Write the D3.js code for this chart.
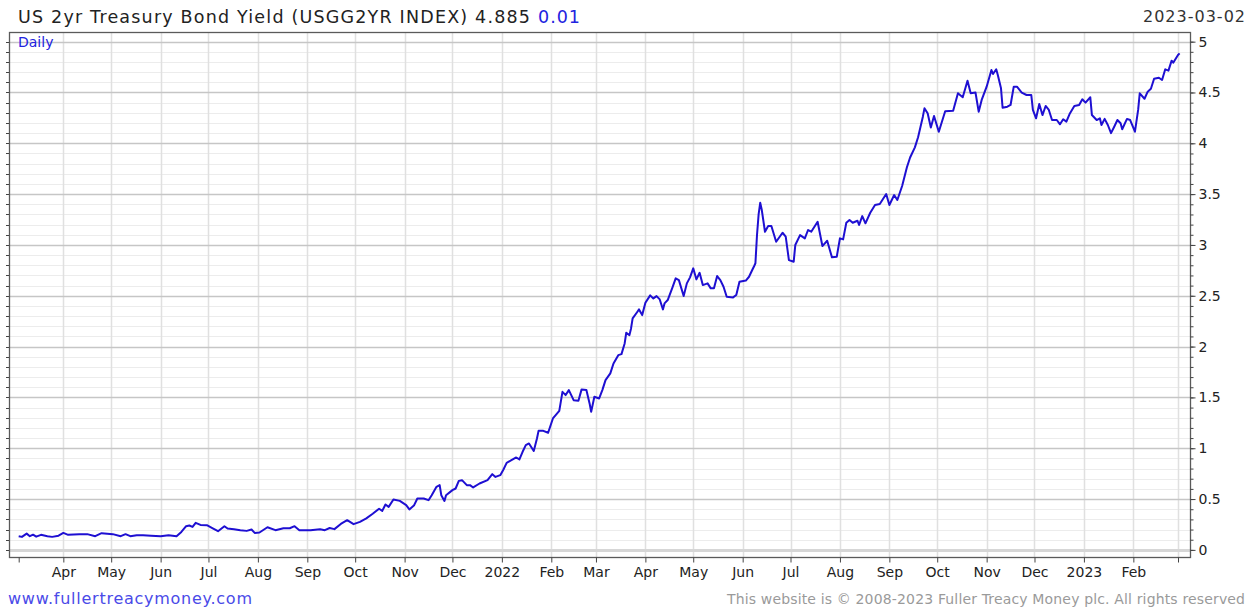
<!DOCTYPE html>
<html>
<head>
<meta charset="utf-8">
<script src="https://cdn.jsdelivr.net/npm/d3@7"></script>
<style>
  html, body { margin: 0; padding: 0; background: #fff; }
  svg { display: block; font-family: "DejaVu Sans", Verdana, sans-serif; }
</style>
</head>
<body>
<svg id="chart" width="1260" height="608"></svg>
<script>
// values (date, yield %)
var dates = [
  "2021-03-04","2021-03-06","2021-03-09","2021-03-11","2021-03-13","2021-03-15","2021-03-18","2021-03-22","2021-03-25","2021-03-29",
  "2021-04-01","2021-04-04","2021-04-11","2021-04-16","2021-04-21","2021-04-25","2021-05-02","2021-05-07","2021-05-10","2021-05-13",
  "2021-05-17","2021-05-21","2021-05-26","2021-06-01","2021-06-06","2021-06-11","2021-06-14","2021-06-17","2021-06-19","2021-06-21",
  "2021-06-23","2021-06-26","2021-06-30","2021-07-04","2021-07-07","2021-07-11","2021-07-13","2021-07-17","2021-07-21","2021-07-25",
  "2021-07-28","2021-07-30","2021-08-02","2021-08-07","2021-08-12","2021-08-17","2021-08-21","2021-08-24","2021-08-27","2021-09-03",
  "2021-09-09","2021-09-12","2021-09-15","2021-09-18","2021-09-22","2021-09-26","2021-09-30","2021-10-04","2021-10-08","2021-10-12",
  "2021-10-16","2021-10-18","2021-10-20","2021-10-22","2021-10-25","2021-10-29","2021-11-02","2021-11-04","2021-11-07","2021-11-09",
  "2021-11-13","2021-11-16","2021-11-18","2021-11-21","2021-11-23","2021-11-24","2021-11-26","2021-11-27","2021-12-01","2021-12-03",
  "2021-12-05","2021-12-07","2021-12-10","2021-12-12","2021-12-14","2021-12-18","2021-12-23","2021-12-26","2021-12-28","2021-12-31",
  "2022-01-02","2022-01-04","2022-01-07","2022-01-10","2022-01-12","2022-01-14","2022-01-16","2022-01-18","2022-01-20","2022-01-21",
  "2022-01-23","2022-01-24","2022-01-27","2022-01-30","2022-02-02","2022-02-06","2022-02-08","2022-02-10","2022-02-12","2022-02-15",
  "2022-02-18","2022-02-20","2022-02-23","2022-02-25","2022-02-26","2022-02-28","2022-03-03","2022-03-05","2022-03-07","2022-03-10",
  "2022-03-12","2022-03-15","2022-03-17","2022-03-19","2022-03-20","2022-03-22","2022-03-23","2022-03-24","2022-03-27","2022-03-28",
  "2022-03-30","2022-04-01","2022-04-04","2022-04-06","2022-04-08","2022-04-10","2022-04-12","2022-04-13","2022-04-15","2022-04-18",
  "2022-04-20","2022-04-22","2022-04-25","2022-04-27","2022-04-29","2022-05-01","2022-05-03","2022-05-05","2022-05-07","2022-05-10",
  "2022-05-12","2022-05-14","2022-05-16","2022-05-18","2022-05-20","2022-05-22","2022-05-26","2022-05-28","2022-05-30","2022-06-03",
  "2022-06-05","2022-06-07","2022-06-08","2022-06-09","2022-06-10","2022-06-11","2022-06-12","2022-06-13","2022-06-15","2022-06-17",
  "2022-06-19","2022-06-22","2022-06-26","2022-06-28","2022-06-30","2022-07-03","2022-07-04","2022-07-07","2022-07-10","2022-07-12",
  "2022-07-14","2022-07-18","2022-07-21","2022-07-24","2022-07-27","2022-07-30","2022-08-01","2022-08-03","2022-08-05","2022-08-07",
  "2022-08-09","2022-08-12","2022-08-13","2022-08-15","2022-08-17","2022-08-20","2022-08-23","2022-08-26","2022-08-30","2022-09-01",
  "2022-09-04","2022-09-06","2022-09-09","2022-09-12","2022-09-14","2022-09-17","2022-09-19","2022-09-22","2022-09-23","2022-09-25",
  "2022-09-27","2022-09-29","2022-10-02","2022-10-06","2022-10-11","2022-10-14","2022-10-17","2022-10-20","2022-10-22","2022-10-25",
  "2022-10-27","2022-10-29","2022-11-01","2022-11-04","2022-11-05","2022-11-07","2022-11-08","2022-11-10","2022-11-11","2022-11-14",
  "2022-11-16","2022-11-18","2022-11-20","2022-11-23","2022-11-26","2022-11-29","2022-11-30","2022-12-02","2022-12-04","2022-12-06",
  "2022-12-08","2022-12-10","2022-12-12","2022-12-15","2022-12-17","2022-12-19","2022-12-21","2022-12-23","2022-12-26","2022-12-29",
  "2022-12-31","2023-01-02","2023-01-05","2023-01-06","2023-01-09","2023-01-11","2023-01-12","2023-01-14","2023-01-16","2023-01-18",
  "2023-01-20","2023-01-22","2023-01-24","2023-01-25","2023-01-28","2023-01-30","2023-02-02","2023-02-04","2023-02-05","2023-02-08",
  "2023-02-10","2023-02-12","2023-02-14","2023-02-17","2023-02-19","2023-02-21","2023-02-23","2023-02-25","2023-02-26","2023-03-01",
  "2023-03-02"
];
var yields = [
  0.135,0.128,0.160,0.135,0.150,0.130,0.148,0.135,0.128,0.140,
  0.167,0.148,0.155,0.155,0.135,0.164,0.155,0.135,0.155,0.135,
  0.145,0.145,0.140,0.135,0.145,0.135,0.177,0.233,0.240,0.226,
  0.266,0.246,0.243,0.210,0.184,0.233,0.210,0.204,0.194,0.187,
  0.200,0.167,0.171,0.223,0.194,0.213,0.213,0.233,0.194,0.194,
  0.204,0.194,0.215,0.204,0.255,0.292,0.253,0.276,0.310,0.355,
  0.405,0.384,0.447,0.423,0.496,0.482,0.440,0.398,0.440,0.506,
  0.506,0.489,0.538,0.620,0.637,0.538,0.482,0.538,0.588,0.604,
  0.679,0.686,0.637,0.637,0.614,0.653,0.686,0.745,0.718,0.735,
  0.791,0.856,0.883,0.909,0.890,0.965,1.030,1.047,0.998,0.974,
  1.096,1.171,1.171,1.152,1.293,1.368,1.555,1.523,1.572,1.473,
  1.467,1.579,1.572,1.441,1.358,1.506,1.490,1.572,1.670,1.736,
  1.834,1.916,1.926,2.031,2.136,2.113,2.179,2.277,2.343,2.366,
  2.310,2.431,2.504,2.474,2.497,2.464,2.366,2.425,2.458,2.583,
  2.671,2.654,2.497,2.622,2.681,2.770,2.661,2.726,2.605,2.622,
  2.573,2.573,2.694,2.654,2.589,2.490,2.484,2.507,2.638,2.650,
  2.687,2.753,2.785,2.820,3.100,3.300,3.415,3.343,3.130,3.186,
  3.186,3.031,3.120,3.081,2.851,2.835,2.999,3.097,3.065,3.147,
  3.130,3.228,2.989,3.041,2.878,2.884,3.065,3.055,3.218,3.245,
  3.218,3.238,3.196,3.284,3.213,3.317,3.393,3.403,3.501,3.393,
  3.491,3.442,3.580,3.764,3.860,3.960,4.060,4.262,4.344,4.295,
  4.155,4.269,4.114,4.316,4.321,4.492,4.453,4.616,4.492,4.500,
  4.311,4.433,4.557,4.721,4.682,4.728,4.672,4.541,4.350,4.360,
  4.377,4.557,4.557,4.498,4.475,4.475,4.328,4.246,4.387,4.278,
  4.367,4.328,4.229,4.229,4.187,4.236,4.213,4.288,4.367,4.377,
  4.433,4.400,4.453,4.278,4.229,4.246,4.180,4.240,4.180,4.100,
  4.163,4.229,4.197,4.138,4.240,4.229,4.114,4.328,4.492,4.438,
  4.508,4.536,4.635,4.645,4.623,4.728,4.715,4.813,4.793,4.869,
  4.885
];

var xTickDates  = ["2021-03-04","2021-04-01","2021-05-01","2021-06-01","2021-07-01","2021-08-01","2021-09-01","2021-10-01","2021-11-01","2021-12-01",
                   "2022-01-01","2022-02-01","2022-03-01","2022-04-01","2022-05-01","2022-06-01","2022-07-01","2022-08-01","2022-09-01","2022-10-01",
                   "2022-11-01","2022-12-01","2023-01-01","2023-02-01","2023-03-01"];
var xTickLabels = ["","Apr","May","Jun","Jul","Aug","Sep","Oct","Nov","Dec",
                   "2022","Feb","Mar","Apr","May","Jun","Jul","Aug","Sep","Oct",
                   "Nov","Dec","2023","Feb",""];
var yMajorTicks = [0, 0.5, 1, 1.5, 2, 2.5, 3, 3.5, 4, 4.5, 5];
var yMinorTicks = d3.range(0, 51).map(function (i) { return i / 10; });

var titleText = "US 2yr Treasury Bond Yield (USGG2YR INDEX) 4.885";
var changeText = "0.01";
var dateText = "2023-03-02";

var parse = d3.timeParse("%Y-%m-%d");
var data = dates.map(function (d, i) { return { date: parse(d), value: yields[i] }; });

// plot box (note: "top" is reserved on window, so prefixed names)
var plotL = 9, plotR = 1190, plotT = 32, plotB = 557;
var svg = d3.select("#chart");

var x = d3.scaleTime()
  .domain([parse("2021-03-02"), parse("2023-03-02")])
  .range([15.5, 1179.6]);
var y = d3.scaleLinear()
  .domain([-0.07, 5.095])
  .range([plotB, plotT]);

var lineColor = "#1e0fd2";
var snap = function (v) { return Math.round(v) + 0.5; };

// minor horizontal grid
svg.append("g").selectAll("line")
  .data(yMinorTicks.filter(function (v) { return yMajorTicks.indexOf(v) < 0; }))
  .join("line")
  .attr("x1", plotL).attr("x2", plotR)
  .attr("y1", function (d) { return snap(y(d)); })
  .attr("y2", function (d) { return snap(y(d)); })
  .attr("stroke", "#ececec");

// vertical grid at month ticks
svg.append("g").selectAll("line")
  .data(xTickDates.slice(1))
  .join("line")
  .attr("x1", function (d) { return snap(x(parse(d))); })
  .attr("x2", function (d) { return snap(x(parse(d))); })
  .attr("y1", plotT).attr("y2", plotB)
  .attr("stroke", "#e0e0e0")
  .attr("stroke-width", 1.5);

// major horizontal grid
svg.append("g").selectAll("line")
  .data(yMajorTicks)
  .join("line")
  .attr("x1", plotL).attr("x2", plotR)
  .attr("y1", function (d) { return snap(y(d)); })
  .attr("y2", function (d) { return snap(y(d)); })
  .attr("stroke", function (d) { return d === 0 ? "#d6d6d6" : "#c6c6c6"; })
  .attr("stroke-width", function (d) { return d === 0 ? 3 : 1.3; });

// frame
svg.append("rect")
  .attr("x", plotL + 0.5).attr("y", plotT + 0.5)
  .attr("width", plotR - plotL).attr("height", plotB - plotT)
  .attr("fill", "none")
  .attr("stroke", "#5a5a5a")
  .attr("stroke-width", 1.3);

// left minor ticks
svg.append("g").selectAll("line")
  .data(yMinorTicks)
  .join("line")
  .attr("x1", plotL - 3).attr("x2", plotL)
  .attr("y1", function (d) { return snap(y(d)); })
  .attr("y2", function (d) { return snap(y(d)); })
  .attr("stroke", "#444");

// right axis: minor ticks, then major ticks with labels
svg.append("g")
  .attr("transform", "translate(" + (plotR + 0.5) + ",0)")
  .call(d3.axisRight(y).tickValues(yMinorTicks).tickSize(3).tickFormat(""))
  .call(function (g) {
    g.select(".domain").remove();
    g.selectAll("line").attr("stroke", "#444");
  });
svg.append("g")
  .attr("transform", "translate(" + (plotR + 0.5) + ",0)")
  .call(d3.axisRight(y).tickValues(yMajorTicks).tickSize(5).tickPadding(3).tickFormat(d3.format("~g")))
  .call(function (g) {
    g.select(".domain").remove();
    g.selectAll("line").attr("stroke", "#444");
    g.selectAll("text")
      .attr("fill", "#222")
      .style("font-family", "DejaVu Sans, Verdana, sans-serif")
      .style("font-size", "14px");
  });

// bottom axis
var xAxis = d3.axisBottom(x)
  .tickValues(xTickDates.map(parse))
  .tickSize(5)
  .tickPadding(5)
  .tickFormat(function (d, i) { return xTickLabels[i]; });
svg.append("g")
  .attr("transform", "translate(0," + (plotB + 0.5) + ")")
  .call(xAxis)
  .call(function (g) {
    g.select(".domain").remove();
    g.selectAll("line").attr("stroke", "#444");
    g.selectAll("text")
      .attr("fill", "#222")
      .style("font-family", "DejaVu Sans, Verdana, sans-serif")
      .style("font-size", "14px");
  });

// series line
var line = d3.line()
  .x(function (d) { return x(d.date); })
  .y(function (d) { return y(d.value); })
  .curve(d3.curveLinear);

svg.append("path")
  .datum(data)
  .attr("d", line)
  .attr("fill", "none")
  .attr("stroke", lineColor)
  .attr("stroke-width", 2)
  .attr("stroke-linejoin", "round");

// header
svg.append("text")
  .attr("x", 18).attr("y", 23)
  .attr("fill", "#222")
  .attr("textLength", 512).attr("lengthAdjust", "spacing")
  .style("font-size", "17.5px")
  .text(titleText);
svg.append("text")
  .attr("x", 538).attr("y", 23)
  .attr("fill", "#2222e0")
  .attr("textLength", 42).attr("lengthAdjust", "spacing")
  .style("font-size", "17.5px")
  .text(changeText);

svg.append("text")
  .attr("x", 1143).attr("y", 22)
  .attr("fill", "#333")
  .attr("textLength", 102).attr("lengthAdjust", "spacing")
  .style("font-size", "16px")
  .text(dateText);

svg.append("text")
  .attr("x", 18).attr("y", 47)
  .attr("fill", "#2222e0")
  .style("font-size", "14px")
  .text("Daily");

// footer
svg.append("text")
  .attr("x", 8).attr("y", 604)
  .attr("fill", "#4a4ae8")
  .attr("textLength", 244).attr("lengthAdjust", "spacing")
  .style("font-size", "16px")
  .text("www.fullertreacymoney.com");

svg.append("text")
  .attr("x", 727).attr("y", 604)
  .attr("fill", "#9a9a9a")
  .attr("textLength", 518).attr("lengthAdjust", "spacing")
  .style("font-size", "14px")
  .text("This website is \u00a9 2008-2023 Fuller Treacy Money plc. All rights reserved");
</script>
</body>
</html>
